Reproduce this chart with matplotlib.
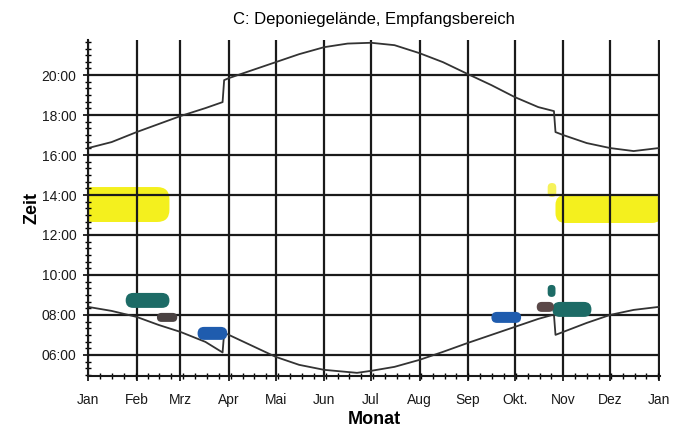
import matplotlib
matplotlib.use('Agg')
import matplotlib.pyplot as plt
from matplotlib.patches import FancyBboxPatch
from matplotlib.ticker import FixedLocator, MultipleLocator

# month starts (day of year) and labels
month_days = [0, 31, 59, 90, 120, 151, 181, 212, 243, 273, 304, 334, 365]
month_labels = ['Jan', 'Feb', 'Mrz', 'Apr', 'Mai', 'Jun', 'Jul', 'Aug', 'Sep', 'Okt.', 'Nov', 'Dez', 'Jan']

hour_ticks = [6, 8, 10, 12, 14, 16, 18, 20]
hour_labels = ['06:00', '08:00', '10:00', '12:00', '14:00', '16:00', '18:00', '20:00']

# sunset (decimal hours), with the summer time jumps
sunset_days = [0, 15, 31, 45, 59, 75, 86, 87, 90, 105, 120, 135, 151, 166, 181, 196,
               212, 227, 243, 258, 273, 288, 298, 299, 304, 319, 334, 349, 365]
sunset_time = [16.35, 16.65, 17.15, 17.55, 17.95, 18.35, 18.65, 19.75, 19.85, 20.25, 20.65,
               21.05, 21.4, 21.58, 21.62, 21.5, 21.1, 20.65, 20.05, 19.5, 18.9, 18.4, 18.2,
               17.15, 17.0, 16.6, 16.35, 16.2, 16.35]

# sunrise (decimal hours)
sunrise_days = [0, 15, 31, 45, 59, 75, 86, 87, 90, 105, 120, 135, 151, 172, 181, 196,
                212, 227, 243, 258, 273, 288, 298, 299, 304, 319, 334, 349, 365]
sunrise_time = [8.4, 8.2, 7.9, 7.5, 7.15, 6.65, 6.12, 7.1, 7.0, 6.45, 5.9, 5.5, 5.25, 5.1,
                5.2, 5.4, 5.75, 6.15, 6.6, 7.0, 7.4, 7.8, 8.02, 7.0, 7.15, 7.6, 8.0, 8.25, 8.4]

# hand-drawn marks: day range, time range, colour
mark_start = [-5, 299, 294, 24, 44, 70, 258, 297, 287, 294]
mark_end = [52, 367, 299.5, 52, 57, 89, 277, 322, 298, 299]
mark_low = [12.65, 12.6, 13.9, 8.35, 7.65, 6.75, 7.6, 7.9, 8.15, 8.9]
mark_high = [14.4, 14.0, 14.6, 9.1, 8.1, 7.4, 8.15, 8.65, 8.65, 9.5]
mark_color = ['#f4f01e', '#f4f01e', '#f6f25a', '#1d6b66', '#4a4242', '#1f5cae',
              '#1f5cae', '#1d6b66', '#5a4848', '#1d6b66']

plt.rcParams['font.family'] = ['Liberation Sans', 'DejaVu Sans']

fig = plt.figure(figsize=(6.73, 4.32), dpi=100)
ax = fig.add_axes([0.131, 0.130, 0.850, 0.777])

ax.set_xlim(0, 366)
ax.set_ylim(4.95, 21.75)

ax.plot(sunset_days, sunset_time, color='#333333', lw=1.3, zorder=2)
ax.plot(sunrise_days, sunrise_time, color='#333333', lw=1.3, zorder=2)

aspect = 1 / 12.8
for x0, x1, y0, y1, c in zip(mark_start, mark_end, mark_low, mark_high, mark_color):
    w = x1 - x0
    h = y1 - y0
    yellow = c.startswith('#f')
    r = min(w / 2, h / aspect / 2)
    if yellow and w > 20:
        r = r * 0.7
    p = FancyBboxPatch((x0, y0), w, h,
                       boxstyle='round,pad=0,rounding_size=%f' % r,
                       mutation_aspect=aspect, facecolor=c, edgecolor='none',
                       zorder=0.4 if yellow else 3)
    ax.add_patch(p)

ax.xaxis.set_major_locator(FixedLocator(month_days))
ax.set_xticklabels(month_labels)
ax.xaxis.set_minor_locator(MultipleLocator(7.6))
ax.yaxis.set_major_locator(FixedLocator(hour_ticks))
ax.set_yticklabels(hour_labels)
ax.yaxis.set_minor_locator(MultipleLocator(1 / 3))

ax.set_axisbelow(True)
ax.grid(True, which='major', color='#1a1a1a', lw=1.6)

for s in ['top', 'right']:
    ax.spines[s].set_visible(False)
for s in ['left', 'bottom']:
    ax.spines[s].set_color('#1a1a1a')
    ax.spines[s].set_linewidth(1.5)

ax.tick_params(axis='both', which='major', direction='inout', length=7, width=1.3,
               labelsize=10, colors='#1a1a1a')
ax.tick_params(axis='both', which='minor', direction='inout', length=4, width=1)
ax.tick_params(axis='x', pad=9)
ax.tick_params(axis='y', pad=5)

ax.set_title('C: Deponiegelände, Empfangsbereich', fontsize=12, pad=12)
ax.set_xlabel('Monat', fontsize=13, fontweight='bold', labelpad=3)
ax.set_ylabel('Zeit', fontsize=13, fontweight='bold', labelpad=1)

plt.savefig('out.png', dpi=100)
plt.close()
